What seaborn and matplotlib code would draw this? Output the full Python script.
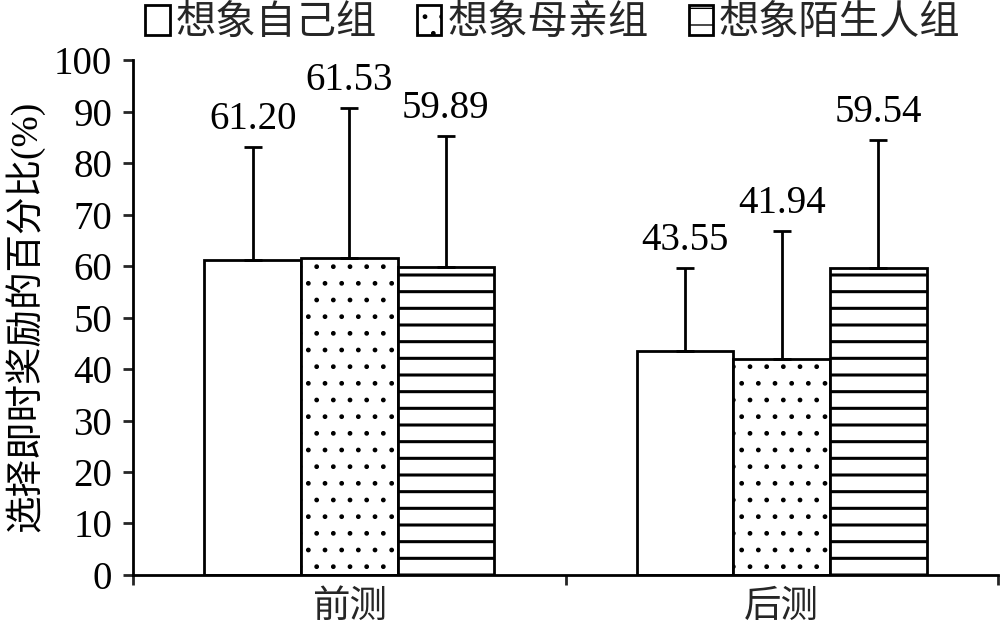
import numpy as np
import pandas as pd
import matplotlib
matplotlib.use("Agg")
import matplotlib.pyplot as plt
import seaborn as sns

# data
phases = ["前测", "后测"]
groups = ["想象自己组", "想象母亲组", "想象陌生人组"]
pre_means = [61.20, 61.53, 59.89]
post_means = [43.55, 41.94, 59.54]
pre_sd = [22.0, 29.1, 25.3]
post_sd = [16.1, 24.9, 25.0]
hatches = ["", ".", "-"]

sns.set_theme(style="white")
plt.rcParams['font.family'] = ['Liberation Serif', 'Noto Sans CJK SC']
plt.rcParams['hatch.linewidth'] = 1.0

rows = []
for g, m in zip(groups, pre_means):
    rows.append({"阶段": phases[0], "组别": g, "百分比": m})
for g, m in zip(groups, post_means):
    rows.append({"阶段": phases[1], "组别": g, "百分比": m})
df = pd.DataFrame(rows)
sds = {phases[0]: pre_sd, phases[1]: post_sd}

fig = plt.figure(figsize=(10, 6.26), dpi=100)
ax = fig.add_axes([0.133, 0.0815, 0.865, 0.8225])

sns.barplot(data=df, x="阶段", y="百分比", hue="组别", order=phases, hue_order=groups,
            palette=["white"] * 3, edgecolor="black", linewidth=2, width=0.67,
            errorbar=None, legend=False, ax=ax, saturation=1)

bar_containers = list(ax.containers)
for ci, cont in enumerate(bar_containers):
    for bi, bar in enumerate(cont.patches):
        bar.set_hatch(hatches[ci])
        bar.set_facecolor("white")
        bar.set_edgecolor("black")
        if ci == 2 and hasattr(bar, "set_hatch_linewidth"):
            bar.set_hatch_linewidth(2.2)
        x = bar.get_x() + bar.get_width() / 2
        h = bar.get_height()
        sd = sds[phases[bi]][ci]
        ax.errorbar([x], [h], yerr=[[0], [sd]], fmt="none", ecolor="black",
                    elinewidth=2, capsize=6.5, capthick=2, zorder=3)
        ax.annotate(f"{h:.2f}", (x, h + sd), xytext=(0, 13), textcoords="offset points",
                    ha="center", va="baseline", fontsize=28, color="black")

ax.set_ylim(0, 100)
ax.set_yticks(np.arange(0, 101, 10))
ax.set_xlim(-0.5, 1.5)
ax.set_xticks([-0.5, 0.5, 1.5])
ax.set_xticklabels(["", "", ""])
ax.set_xticks([0, 1], minor=True)
ax.set_xticklabels(phases, minor=True, fontsize=27)
ax.tick_params(axis="x", which="major", direction="out", length=7, width=2, bottom=True)
ax.tick_params(axis="x", which="minor", length=0, pad=11, bottom=True)
ax.tick_params(axis="y", direction="out", length=7, width=2, pad=8, labelsize=28, left=True)
for t in ax.get_yticklabels():
    t.set_color("black")

for s in ["top", "right"]:
    ax.spines[s].set_visible(False)
for s in ["left", "bottom"]:
    ax.spines[s].set_color("black")
    ax.spines[s].set_linewidth(2)

ax.set_xlabel("")
ax.set_ylabel("选择即时奖励的百分比(%)", fontsize=27, color="black")
ax.yaxis.set_label_coords(-0.102, 0.503)

fig.legend(bar_containers, groups, loc="center", bbox_to_anchor=(0.553, 0.962), ncol=3,
           frameon=False, fontsize=29, handlelength=0.6, handleheight=0.8,
           handletextpad=0.15, columnspacing=1.0, borderaxespad=0)

fig.savefig("out.png", dpi=100, facecolor="white")
